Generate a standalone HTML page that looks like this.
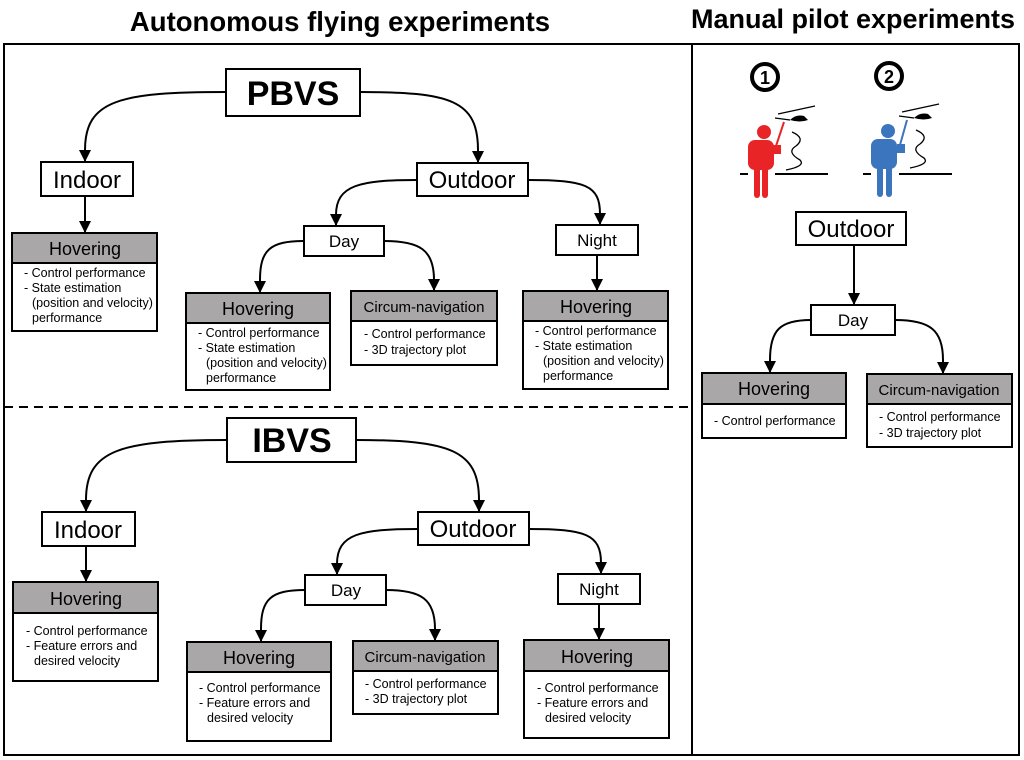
<!DOCTYPE html>
<html><head><meta charset="utf-8"><style>
html,body{margin:0;padding:0;background:#fff;}
svg{display:block;font-family:"Liberation Sans",Arial,sans-serif;}
.b{fill:#fff;stroke:#000;stroke-width:2}
.h{fill:#a9a7a8;stroke:#000;stroke-width:2}
.c{fill:none;stroke:#000;stroke-width:2;marker-end:url(#a)}
.t{font-size:24px;text-anchor:middle}
.s{font-size:17px;text-anchor:middle}
.hh{font-size:18px;text-anchor:middle}
.cn{font-size:15px;text-anchor:middle}
.l{font-size:12.5px}
</style></head><body>
<svg width="1024" height="760" viewBox="0 0 1024 760">
<defs><marker id="a" markerWidth="12" markerHeight="12" refX="11" refY="6" orient="auto" markerUnits="userSpaceOnUse" viewBox="0 0 12 12"><path d="M0,0 L12,6 L0,12 z" fill="#000"/></marker></defs>
<text x="340" y="31" font-size="27.5" font-weight="bold" text-anchor="middle">Autonomous flying experiments</text>
<text x="853" y="28" font-size="27" font-weight="bold" text-anchor="middle">Manual pilot experiments</text>
<rect x="4" y="44" width="688" height="711" fill="none" stroke="#000" stroke-width="2"/>
<rect x="692" y="44" width="327" height="711" fill="none" stroke="#000" stroke-width="2"/>
<line x1="4" y1="407" x2="692" y2="407" stroke="#000" stroke-width="2" stroke-dasharray="9,6"/>

<g>
<path class="c" d="M226,92 C120,92 85,100 85,150 L85,161"/>
<path class="c" d="M360,92 C450,92 478,100 478,150 L478,162"/>
<rect class="b" x="226" y="69" width="134" height="47"/>
<text x="293" y="105" font-size="34" font-weight="bold" text-anchor="middle">PBVS</text>
<rect class="b" x="41" y="162" width="92" height="34"/><text class="t" x="87" y="188">Indoor</text>
<rect class="b" x="417" y="163" width="111" height="33"/><text class="t" x="472" y="188">Outdoor</text>
<path class="c" d="M85,196 L85,232"/>
<path class="c" d="M417,180 C360,180 336,185 336,215 L336,225"/>
<path class="c" d="M528,180 C585,180 600,185 600,214 L600,224"/>
<rect class="b" x="304" y="226" width="80" height="30"/><text class="s" x="344" y="247">Day</text>
<rect class="b" x="556" y="225" width="82" height="30"/><text class="s" x="597" y="246">Night</text>
<path class="c" d="M304,241 C270,241 260,250 260,280 L260,292"/>
<path class="c" d="M384,241 C420,241 434,250 434,280 L434,290"/>
<path class="c" d="M597,255 L597,290"/>
<rect class="h" x="12" y="233" width="145" height="30"/><rect class="b" x="12" y="263" width="145" height="68"/>
<text class="hh" x="85" y="255">Hovering</text>
<text class="l" x="24" y="277">- Control performance</text><text class="l" x="24" y="292">- State estimation</text><text class="l" x="32" y="307">(position and velocity)</text><text class="l" x="32" y="322">performance</text>
<rect class="h" x="186" y="293" width="144" height="30"/><rect class="b" x="186" y="323" width="144" height="67"/>
<text class="hh" x="258" y="315">Hovering</text>
<text class="l" x="198" y="337">- Control performance</text><text class="l" x="198" y="352">- State estimation</text><text class="l" x="206" y="367">(position and velocity)</text><text class="l" x="206" y="382">performance</text>
<rect class="h" x="351" y="291" width="146" height="30"/><rect class="b" x="351" y="321" width="146" height="44"/>
<text class="cn" x="424" y="312">Circum-navigation</text>
<text class="l" x="364" y="338">- Control performance</text><text class="l" x="364" y="354">- 3D trajectory plot</text>
<rect class="h" x="523" y="291" width="145" height="30"/><rect class="b" x="523" y="321" width="145" height="68"/>
<text class="hh" x="596" y="313">Hovering</text>
<text class="l" x="535" y="335">- Control performance</text><text class="l" x="535" y="350">- State estimation</text><text class="l" x="543" y="365">(position and velocity)</text><text class="l" x="543" y="380">performance</text>
</g>

<g>
<path class="c" d="M227,440 C120,440 86,450 86,500 L86,511"/>
<path class="c" d="M356,440 C450,440 479,450 479,500 L479,511"/>
<rect class="b" x="227" y="418" width="129" height="44"/>
<text x="292" y="452" font-size="34" font-weight="bold" text-anchor="middle">IBVS</text>
<rect class="b" x="42" y="512" width="93" height="34"/><text class="t" x="88" y="538">Indoor</text>
<rect class="b" x="418" y="512" width="111" height="33"/><text class="t" x="473" y="537">Outdoor</text>
<path class="c" d="M86,546 L86,581"/>
<path class="c" d="M418,529 C360,529 337,534 337,564 L337,574"/>
<path class="c" d="M529,529 C585,529 601,534 601,563 L601,573"/>
<rect class="b" x="305" y="575" width="81" height="30"/><text class="s" x="346" y="596">Day</text>
<rect class="b" x="558" y="574" width="82" height="30"/><text class="s" x="599" y="595">Night</text>
<path class="c" d="M305,590 C271,590 261,599 261,629 L261,641"/>
<path class="c" d="M386,590 C421,590 435,599 435,629 L435,640"/>
<path class="c" d="M599,604 L599,639"/>
<rect class="h" x="13" y="582" width="145" height="31"/><rect class="b" x="13" y="613" width="145" height="68"/>
<text class="hh" x="86" y="605">Hovering</text>
<text class="l" x="26" y="635">- Control performance</text><text class="l" x="26" y="650">- Feature errors and</text><text class="l" x="34" y="665">desired velocity</text>
<rect class="h" x="187" y="642" width="144" height="30"/><rect class="b" x="187" y="672" width="144" height="69"/>
<text class="hh" x="259" y="664">Hovering</text>
<text class="l" x="199" y="692">- Control performance</text><text class="l" x="199" y="707">- Feature errors and</text><text class="l" x="207" y="722">desired velocity</text>
<rect class="h" x="353" y="641" width="145" height="30"/><rect class="b" x="353" y="671" width="145" height="43"/>
<text class="cn" x="425" y="662">Circum-navigation</text>
<text class="l" x="365" y="688">- Control performance</text><text class="l" x="365" y="703">- 3D trajectory plot</text>
<rect class="h" x="524" y="640" width="145" height="31"/><rect class="b" x="524" y="671" width="145" height="67"/>
<text class="hh" x="597" y="663">Hovering</text>
<text class="l" x="537" y="692">- Control performance</text><text class="l" x="537" y="707">- Feature errors and</text><text class="l" x="545" y="722">desired velocity</text>
</g>

<g>
<circle cx="765" cy="77" r="13" fill="#fff" stroke="#000" stroke-width="4"/><text x="765" y="84" font-size="18" font-weight="bold" text-anchor="middle">1</text>
<circle cx="889" cy="76" r="13" fill="#fff" stroke="#000" stroke-width="4"/><text x="889" y="83" font-size="18" font-weight="bold" text-anchor="middle">2</text>
<line x1="740" y1="174" x2="748" y2="174" stroke="#000" stroke-width="2"/><line x1="775" y1="174" x2="828" y2="174" stroke="#000" stroke-width="2"/>
<line x1="863" y1="174" x2="871" y2="174" stroke="#000" stroke-width="2"/><line x1="899" y1="174" x2="952" y2="174" stroke="#000" stroke-width="2"/>
<g fill="#e82427"><circle cx="764" cy="132" r="7"/><rect x="748" y="140" width="26" height="30" rx="7"/><rect x="754" y="160" width="6" height="38" rx="3"/><rect x="762" y="160" width="6" height="38" rx="3"/><rect x="773" y="145" width="8" height="9"/><line x1="776" y1="146" x2="784" y2="122" stroke="#e82427" stroke-width="2"/></g>
<g fill="#3a75bd"><circle cx="888" cy="131" r="7"/><rect x="871" y="139" width="26" height="30" rx="7"/><rect x="877" y="159" width="6" height="38" rx="3"/><rect x="886" y="159" width="6" height="38" rx="3"/><rect x="897" y="144" width="8" height="9"/><line x1="900" y1="145" x2="907" y2="120" stroke="#3a75bd" stroke-width="2"/></g>
<g stroke="#000" stroke-width="1.3" fill="none"><path d="M778,114 l37,-8 M775,118 l15,2 M792,132 q14,6 4,14 q-10,6 4,14 q6,6 -14,10"/><path d="M902,112 l37,-8 M899,116 l15,2 M916,130 q14,6 4,14 q-10,6 4,14 q6,6 -14,10"/></g>
<g fill="#000"><path d="M790,120 q6,-6 14,-4 l4,4 q-8,3 -18,0 z"/><path d="M914,118 q6,-6 14,-4 l4,4 q-8,3 -18,0 z"/></g>
<rect class="b" x="796" y="212" width="110" height="33"/><text class="t" x="851" y="237">Outdoor</text>
<path class="c" d="M854,245 L854,304"/>
<rect class="b" x="811" y="305" width="84" height="30"/><text class="s" x="853" y="326">Day</text>
<path class="c" d="M811,320 C780,320 770,330 770,360 L770,372"/>
<path class="c" d="M895,320 C930,320 943,330 943,360 L943,373"/>
<rect class="h" x="702" y="373" width="144" height="31"/><rect class="b" x="702" y="404" width="144" height="34"/>
<text class="hh" x="774" y="395">Hovering</text>
<text class="l" x="714" y="425">- Control performance</text>
<rect class="h" x="867" y="374" width="145" height="30"/><rect class="b" x="867" y="404" width="145" height="43"/>
<text class="cn" x="939" y="395">Circum-navigation</text>
<text class="l" x="879" y="421">- Control performance</text><text class="l" x="879" y="437">- 3D trajectory plot</text>
</g>
</svg>
</body></html>
